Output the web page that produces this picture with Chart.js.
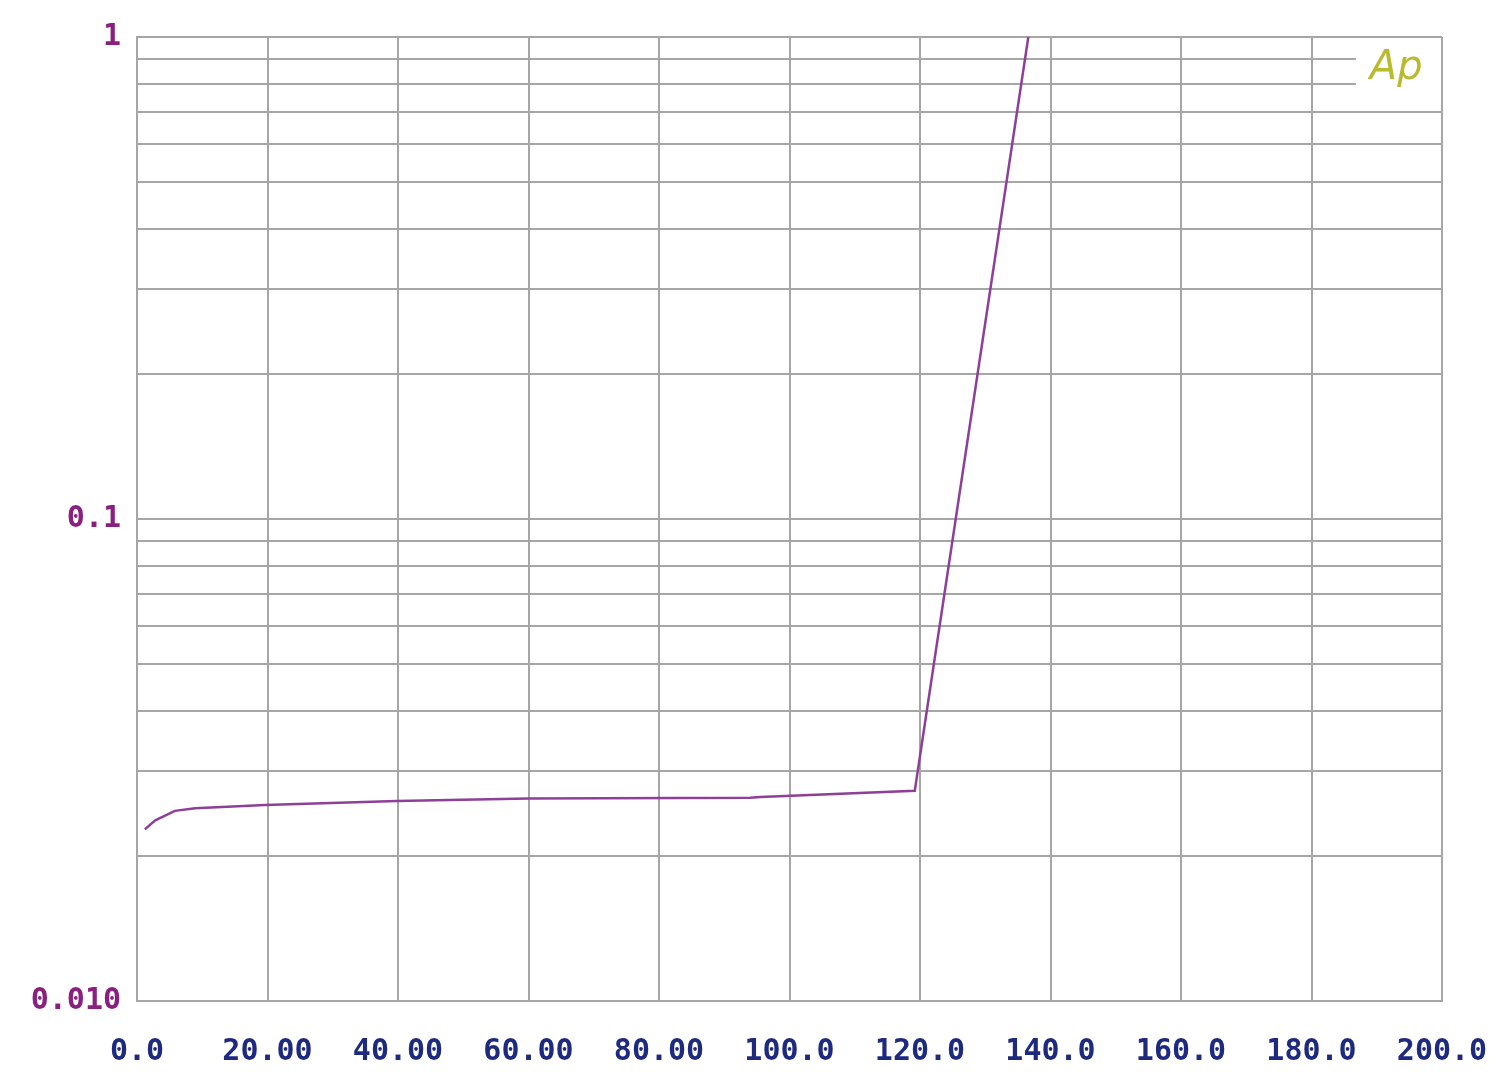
<!DOCTYPE html>
<html>
<head>
<meta charset="utf-8">
<script src="https://cdn.jsdelivr.net/npm/chart.js@4.4.1/dist/chart.umd.min.js"></script>
<style>
  html, body { margin: 0; padding: 0; background: #fff; }
  #wrap { width: 1500px; height: 1072px; }
</style>
</head>
<body>
<div id="wrap"><canvas id="apChart"></canvas></div>
<script>
// measured curve, x = level, y = value (log axis)
const curveX = [1.2, 2.8, 5.8, 8.9, 19.6, 39.8, 60, 94, 95.5, 119.2, 136.6];
const curveY = [0.0227, 0.0237, 0.0248, 0.0251, 0.0255, 0.0260, 0.0263, 0.0264, 0.0265, 0.0273, 1.0];

const xTickValues = [0, 20, 40, 60, 80, 100, 120, 140, 160, 180, 200];
const xTickLabels = ['0.0', '20.00', '40.00', '60.00', '80.00', '100.0', '120.0', '140.0', '160.0', '180.0', '200.0'];
const yTickValues = [0.01, 0.02, 0.03, 0.04, 0.05, 0.06, 0.07, 0.08, 0.09,
                     0.1, 0.2, 0.3, 0.4, 0.5, 0.6, 0.7, 0.8, 0.9, 1];
const yLabelled = { 0.01: '0.010', 0.1: '0.1', 1: '1' };

const gridGray = '#a6a6a6';

// covers the top grid lines behind the "Ap" mark, then writes it
const apMark = {
    id: 'apMark',
    beforeDatasetsDraw(chart) {
        const ctx = chart.ctx;
        const xs = chart.scales.x, ys = chart.scales.y;
        const left = xs.getPixelForValue(186.8);
        const right = chart.chartArea.right - 1;
        const top = ys.getPixelForValue(0.97);
        const bottom = ys.getPixelForValue(0.76);
        ctx.save();
        ctx.fillStyle = '#ffffff';
        ctx.fillRect(left, top, right - left, bottom - top);
        ctx.fillStyle = '#b9bb2e';
        ctx.font = 'italic 40px "DejaVu Sans"';
        ctx.textBaseline = 'middle';
        ctx.fillText('Ap', left + 14, ys.getPixelForValue(0.86));
        ctx.restore();
    }
};

new Chart('apChart', {
    type: 'line',
    data: {
        datasets: [{
            data: curveX.map((x, i) => ({ x: x, y: curveY[i] })),
            borderColor: '#8e3f98',
            borderWidth: 2.5,
            tension: 0,
            pointRadius: 0,
        }]
    },
    options: {
        responsive: true,
        maintainAspectRatio: false,
        animation: false,
        layout: { padding: { top: 37, right: 58, left: 0, bottom: 0 } },
        plugins: {
            legend: { display: false },
            tooltip: { enabled: false }
        },
        scales: {
            x: {
                type: 'linear',
                min: 0,
                max: 200,
                afterBuildTicks: (scale) => { scale.ticks = xTickValues.map(v => ({ value: v })); },
                afterFit: (scale) => {
                    scale.height = 71;
                    scale.paddingLeft = 0;   // labels may hang over the edges
                    scale.paddingRight = 0;
                },
                grid: { color: gridGray, lineWidth: 2, drawTicks: false },
                border: { color: gridGray, width: 2 },
                ticks: {
                    maxRotation: 0,
                    autoSkip: false,
                    padding: 33,
                    color: '#1e2a80',
                    font: { family: '"DejaVu Sans Mono"', size: 30, weight: 'bold' },
                    callback: (v) => xTickLabels[xTickValues.indexOf(v)]
                }
            },
            y: {
                type: 'logarithmic',
                min: 0.01,
                max: 1,
                afterBuildTicks: (scale) => { scale.ticks = yTickValues.map(v => ({ value: v })); },
                afterFit: (scale) => {
                    scale.width = 137;
                    scale.paddingTop = 0;
                    scale.paddingBottom = 0;
                },
                grid: { color: gridGray, lineWidth: 2, drawTicks: false },
                border: { color: gridGray, width: 2 },
                ticks: {
                    autoSkip: false,
                    padding: 16,
                    color: '#8a1f80',
                    font: { family: '"DejaVu Sans Mono"', size: 30, weight: 'bold' },
                    callback: (v) => yLabelled[v] || ''
                }
            }
        }
    },
    plugins: [apMark]
});
</script>
</body>
</html>
